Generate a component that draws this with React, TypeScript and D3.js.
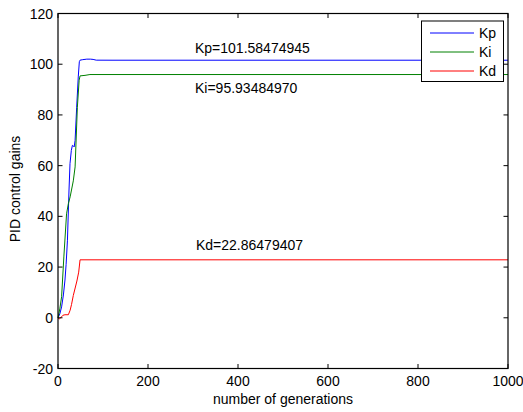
import React from "react";
import * as d3 from "d3";

const xTicks = [0, 200, 400, 600, 800, 1000];
const yTicks = [-20, 0, 20, 40, 60, 80, 100, 120];

const kpGen = [0, 4, 8, 12, 15.5, 18, 21, 24.4, 26.7, 29.6, 32, 34, 36, 38, 41.5, 45, 47.4, 49, 55, 64, 72, 78, 85, 120, 1000];
const kpVal = [0, 1.5, 4.3, 9, 14.9, 21, 30.6, 50, 60.8, 66, 68, 67.8, 67.4, 70, 83, 95, 101, 101.6, 101.8, 102, 102, 101.9, 101.6, 101.58, 101.58];

const kiGen = [0, 4, 8, 13, 19, 23, 27, 34, 38, 43, 47, 49, 60, 71, 120, 1000];
const kiVal = [0, 3.5, 8.3, 24, 41, 45, 47.7, 54, 59.5, 83, 93.7, 95.4, 95.6, 95.93, 95.93, 95.93];

const kdGen = [0, 3, 7.4, 11, 15.5, 23, 27, 30, 34, 42, 46, 49, 1000];
const kdVal = [0, -0.5, 0.3, 1, 1.2, 1.2, 3, 5.2, 8.8, 14.5, 18, 22.86, 22.86];

const seriesNames = ["Kp", "Ki", "Kd"];
const seriesColors = ["#0000ff", "#008000", "#ff0000"];
const annotations = ["Kp=101.58474945", "Ki=95.93484970", "Kd=22.86479407"];
const annotationAt = [[195, 52.7], [195, 93.3], [196, 250]];

export default function App() {
  const W = 523, H = 412;
  const L = 58, R = 508, T = 13.5, B = 368.5;
  const x = d3.scaleLinear().domain([0, 1000]).range([L, R]);
  const y = d3.scaleLinear().domain([-20, 120]).range([B, T]);
  const line = d3.line<[number, number]>().x(d => x(d[0])).y(d => y(d[1]));
  const data = [
    kpGen.map((g, i) => [g, kpVal[i]] as [number, number]),
    kiGen.map((g, i) => [g, kiVal[i]] as [number, number]),
    kdGen.map((g, i) => [g, kdVal[i]] as [number, number]),
  ];
  const font = "Liberation Sans, Arial, sans-serif";
  const fs = 14;
  const tl = 4.5;
  return (
    <svg width={W} height={H} style={{ position: "absolute", left: 0, top: 0, background: "#fff" }} fontFamily={font}>
      <rect x={0} y={0} width={W} height={H} fill="#fff" />
      {data.map((d, i) => (
        <path key={i} d={line(d) || ""} fill="none" stroke={seriesColors[i]} strokeWidth={1} />
      ))}
      {annotations.map((t, i) => (
        <text key={t} x={annotationAt[i][0]} y={annotationAt[i][1]} fontSize={fs} fill="#000">{t}</text>
      ))}
      <rect x={L} y={T} width={R - L} height={B - T} fill="none" stroke="#000" strokeWidth={1.2} />
      {xTicks.map(t => (
        <g key={"x" + t}>
          <line x1={x(t)} x2={x(t)} y1={B} y2={B - tl} stroke="#000" />
          <line x1={x(t)} x2={x(t)} y1={T} y2={T + tl} stroke="#000" />
          <text x={x(t)} y={386} fontSize={fs} textAnchor="middle">{t}</text>
        </g>
      ))}
      {yTicks.map(t => (
        <g key={"y" + t}>
          <line x1={L} x2={L + tl} y1={y(t)} y2={y(t)} stroke="#000" />
          <line x1={R} x2={R - tl} y1={y(t)} y2={y(t)} stroke="#000" />
          <text x={53} y={y(t) + 5} fontSize={fs} textAnchor="end">{t}</text>
        </g>
      ))}
      <text x={283} y={404} fontSize={fs} textAnchor="middle">number of generations</text>
      <text transform={`translate(20,${189}) rotate(-90)`} fontSize={fs} textAnchor="middle">PID control gains</text>
      <g>
        <rect x={421.5} y={21} width={82} height={60.5} fill="#fff" stroke="#000" strokeWidth={1} />
        {seriesNames.map((n, i) => (
          <g key={n}>
            <line x1={430} x2={474} y1={33 + i * 19} y2={33 + i * 19} stroke={seriesColors[i]} />
            <text x={479} y={33 + i * 19 + 5} fontSize={fs}>{n}</text>
          </g>
        ))}
      </g>
    </svg>
  );
}
